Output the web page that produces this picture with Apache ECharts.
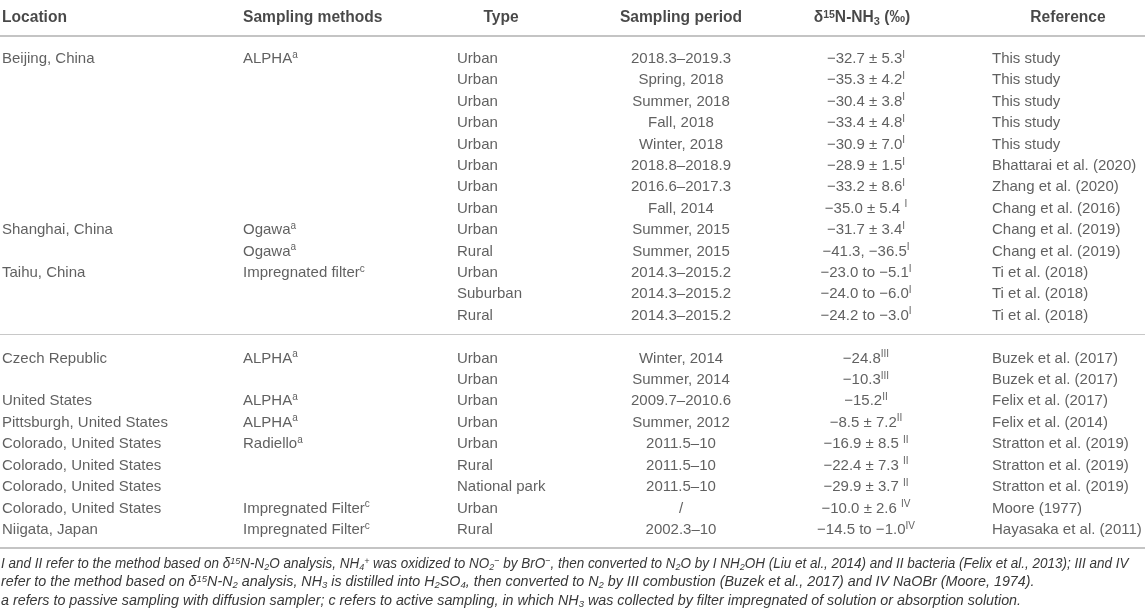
<!DOCTYPE html>
<html>
<head>
<meta charset="utf-8">
<script src="https://cdn.jsdelivr.net/npm/echarts@6/dist/echarts.min.js"></script>
<style>
  html, body { margin: 0; padding: 0; background: #fff; }
  #main { width: 1145px; height: 612px; }
</style>
</head>
<body>
<div id="main"></div>
<script>
// table contents, one array per column ('^' marks a superscript at the end)
const headers = ['Location', 'Sampling methods', 'Type', 'Sampling period',
  'δ{hsup|15}N-NH{hsub|3} (‰)', 'Reference'];

const locations = ['Beijing, China', '', '', '', '', '', '', '',
  'Shanghai, China', '', 'Taihu, China', '', '',
  'Czech Republic', '', 'United States', 'Pittsburgh, United States',
  'Colorado, United States', 'Colorado, United States', 'Colorado, United States',
  'Colorado, United States', 'Niigata, Japan'];

const methods = ['ALPHA^a', '', '', '', '', '', '', '',
  'Ogawa^a', 'Ogawa^a', 'Impregnated filter^c', '', '',
  'ALPHA^a', '', 'ALPHA^a', 'ALPHA^a', 'Radiello^a', '', '',
  'Impregnated Filter^c', 'Impregnated Filter^c'];

const types = ['Urban', 'Urban', 'Urban', 'Urban', 'Urban', 'Urban', 'Urban', 'Urban',
  'Urban', 'Rural', 'Urban', 'Suburban', 'Rural',
  'Urban', 'Urban', 'Urban', 'Urban', 'Urban', 'Rural', 'National park', 'Urban', 'Rural'];

const periods = ['2018.3–2019.3', 'Spring, 2018', 'Summer, 2018', 'Fall, 2018', 'Winter, 2018',
  '2018.8–2018.9', '2016.6–2017.3', 'Fall, 2014', 'Summer, 2015', 'Summer, 2015',
  '2014.3–2015.2', '2014.3–2015.2', '2014.3–2015.2',
  'Winter, 2014', 'Summer, 2014', '2009.7–2010.6', 'Summer, 2012',
  '2011.5–10', '2011.5–10', '2011.5–10', '/', '2002.3–10'];

const deltas = ['−32.7 ± 5.3^I', '−35.3 ± 4.2^I', '−30.4 ± 3.8^I', '−33.4 ± 4.8^I',
  '−30.9 ± 7.0^I', '−28.9 ± 1.5^I', '−33.2 ± 8.6^I', '−35.0 ± 5.4 ^I',
  '−31.7 ± 3.4^I', '−41.3, −36.5^I', '−23.0 to −5.1^I', '−24.0 to −6.0^I', '−24.2 to −3.0^I',
  '−24.8^III', '−10.3^III', '−15.2^II', '−8.5 ± 7.2^II', '−16.9 ± 8.5 ^II',
  '−22.4 ± 7.3 ^II', '−29.9 ± 3.7 ^II', '−10.0 ± 2.6 ^IV', '−14.5 to −1.0^IV'];

const references = ['This study', 'This study', 'This study', 'This study', 'This study',
  'Bhattarai et al. (2020)', 'Zhang et al. (2020)', 'Chang et al. (2016)',
  'Chang et al. (2019)', 'Chang et al. (2019)', 'Ti et al. (2018)', 'Ti et al. (2018)',
  'Ti et al. (2018)', 'Buzek et al. (2017)', 'Buzek et al. (2017)', 'Felix et al. (2017)',
  'Felix et al. (2014)', 'Stratton et al. (2019)', 'Stratton et al. (2019)',
  'Stratton et al. (2019)', 'Moore (1977)', 'Hayasaka et al. (2011)'];

const footnotes = [
  'I and II refer to the method based on δ{s|15}N-N{b|2}O analysis, NH{b|4}{s|+} was oxidized to NO{b|2}{s|−} by BrO{s|−}, then converted to N{b|2}O by I NH{b|2}OH (Liu et al., 2014) and II bacteria (Felix et al., 2013); III and IV',
  'refer to the method based on δ{s|15}N-N{b|2} analysis, NH{b|3} is distilled into H{b|2}SO{b|4}, then converted to N{b|2} by III combustion (Buzek et al., 2017) and IV NaOBr (Moore, 1974).',
  'a refers to passive sampling with diffusion sampler; c refers to active sampling, in which NH{b|3} was collected by filter impregnated of solution or absorption solution.'
];

const firstGroupSize = 13;

// layout
const FONT = '"Liberation Sans", Arial, sans-serif';
const TEXT = '#383838';
const columns = [
  { key: locations, x: 2, align: 'left', hx: 2, halign: 'left' },
  { key: methods, x: 243, align: 'left', hx: 243, halign: 'left' },
  { key: types, x: 457, align: 'left', hx: 501, halign: 'center' },
  { key: periods, x: 681, align: 'center', hx: 681, halign: 'center' },
  { key: deltas, x: 866, align: 'center', hx: 862, halign: 'center' },
  { key: references, x: 992, align: 'left', hx: 1068, halign: 'center' }
];
const headerSlot = -1.9;
const footScale = [0.943, 1, 1];

// rows after the first group skip one slot for the separator
function slot(i) { return i < firstGroupSize ? i : i + 1; }
function fmt(s) { return s.replace(/\^(.+)$/, '{sup|$1}'); }

const chart = echarts.init(document.getElementById('main'));

const series = [];
columns.forEach(function (col, c) {
  series.push({
    type: 'scatter',
    symbolSize: 0,
    silent: true,
    data: col.key.map(function (t, i) { return { value: [col.x, slot(i)], text: t }; })
      .filter(function (d) { return d.text !== ''; }),
    label: {
      show: true,
      position: 'inside',
      align: col.align,
      verticalAlign: 'middle',
      fontFamily: FONT,
      fontSize: 15,
      lineHeight: 18,
      color: TEXT,
      formatter: function (p) { return fmt(p.data.text); },
      rich: {
        sup: { fontFamily: FONT, fontSize: 10, lineHeight: 10, verticalAlign: 'top', color: TEXT }
      }
    }
  });
  series.push({
    type: 'scatter',
    symbolSize: 0,
    silent: true,
    data: [{ value: [col.hx, headerSlot], text: headers[c] }],
    label: {
      show: true,
      position: 'inside',
      align: col.halign,
      verticalAlign: 'middle',
      fontFamily: FONT,
      fontSize: 15.6,
      fontWeight: 'bold',
      lineHeight: 18,
      color: '#1a1a1a',
      formatter: function (p) { return p.data.text; },
      rich: {
        hsup: { fontFamily: FONT, fontSize: 10.5, fontWeight: 'bold', lineHeight: 10, verticalAlign: 'top', color: '#1a1a1a' },
        hsub: { fontFamily: FONT, fontSize: 11, fontWeight: 'bold', lineHeight: 10, verticalAlign: 'bottom', color: '#1a1a1a' }
      }
    },
    markLine: c === 0 ? {
      silent: true,
      symbol: 'none',
      label: { show: false },
      data: [
        { yAxis: -1.08, lineStyle: { color: '#c4c4c4', width: 2, type: 'solid' } },
        { yAxis: 12.85, lineStyle: { color: '#c8c8c8', width: 1.2, type: 'solid' } },
        { yAxis: 22.84, lineStyle: { color: '#c4c4c4', width: 2, type: 'solid' } }
      ]
    } : undefined
  });
});

const footRich = {
  s: { font: 'italic 9.5px ' + FONT, fill: TEXT, verticalAlign: 'top', lineHeight: 9, color: TEXT },
  b: { font: 'italic 9.5px ' + FONT, fill: TEXT, verticalAlign: 'bottom', lineHeight: 9, color: TEXT }
};

chart.setOption({
  animation: false,
  backgroundColor: '#ffffff',
  grid: { left: 0, right: 0, top: 16, bottom: 18 },
  xAxis: { type: 'value', min: 0, max: 1145, show: false },
  yAxis: { type: 'value', min: -2, max: 25, inverse: true, show: false },
  series: series,
  graphic: footnotes.map(function (t, k) {
    return {
      type: 'text',
      x: 1,
      y: 564 + k * 18.5,
      scaleX: footScale[k],
      silent: true,
      style: {
        text: t,
        font: 'italic 14.3px ' + FONT,
        fill: TEXT,
        verticalAlign: 'middle',
        lineHeight: 16,
        rich: footRich
      }
    };
  })
});
</script>
</body>
</html>
